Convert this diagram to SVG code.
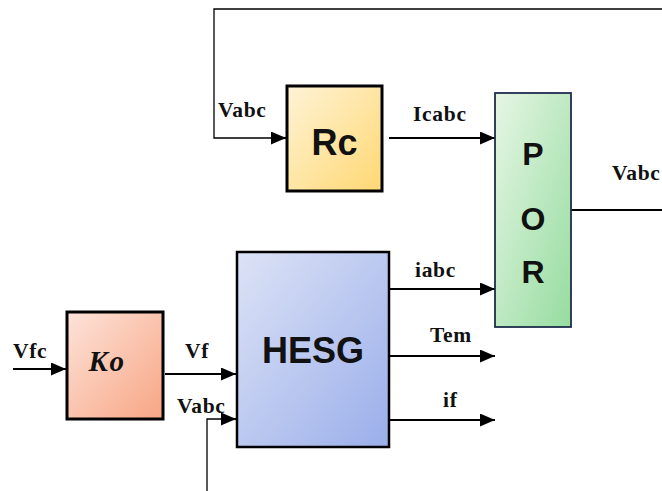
<svg xmlns="http://www.w3.org/2000/svg" width="662" height="491" viewBox="0 0 662 491">
<defs>
  <linearGradient id="gRc" x1="0" y1="0" x2="1" y2="1"><stop offset="0" stop-color="#fff3d6"/><stop offset="1" stop-color="#ffd873"/></linearGradient>
  <linearGradient id="gPor" x1="0" y1="0" x2="1" y2="1"><stop offset="0" stop-color="#e6f6e4"/><stop offset="1" stop-color="#96dca0"/></linearGradient>
  <linearGradient id="gHesg" x1="0" y1="0" x2="1" y2="1"><stop offset="0" stop-color="#dde3f6"/><stop offset="1" stop-color="#9aaeea"/></linearGradient>
  <linearGradient id="gKo" x1="0" y1="0" x2="1" y2="1"><stop offset="0" stop-color="#fde3da"/><stop offset="1" stop-color="#f8a583"/></linearGradient>
  <marker id="ah" markerWidth="15" markerHeight="13" refX="15" refY="6.5" orient="auto" markerUnits="userSpaceOnUse"><path d="M0,0 L15,6.5 L0,13 Z" fill="#000"/></marker>
</defs>
<style>
  .lbl{font-family:"Liberation Serif",serif;font-weight:bold;font-size:21.5px;fill:#111;letter-spacing:0.7px}
  .box{font-family:"Liberation Sans",Arial,sans-serif;font-weight:bold;fill:#111;text-anchor:middle}
  .thin{fill:none;stroke:#000;stroke-width:1.3}
  .sig{fill:none;stroke:#000;stroke-width:2.2}
</style>
<g id="connectors">
  <polyline class="thin" points="662,9 214,9 214,138 272,138"/>
  <line class="sig" x1="272" y1="138" x2="286" y2="138" marker-end="url(#ah)"/>
  <line class="sig" x1="389" y1="138" x2="495" y2="138" marker-end="url(#ah)"/>
  <line class="thin" x1="571" y1="210" x2="662" y2="210" style="stroke-width:1.8"/>
  <line class="sig" x1="389" y1="289" x2="495" y2="289" marker-end="url(#ah)"/>
  <line class="sig" x1="389" y1="356" x2="495" y2="356" marker-end="url(#ah)"/>
  <line class="sig" x1="389" y1="420" x2="495" y2="420" marker-end="url(#ah)"/>
  <line class="sig" x1="13" y1="369" x2="66" y2="369" marker-end="url(#ah)"/>
  <line class="sig" x1="165" y1="374" x2="236" y2="374" marker-end="url(#ah)"/>
  <polyline class="thin" points="207,491 207,419 222,419"/>
  <line class="sig" x1="222" y1="419" x2="236" y2="419" marker-end="url(#ah)"/>
</g>
<g id="Rc">
  <rect x="287" y="86" width="95" height="105" fill="url(#gRc)" stroke="#000" stroke-width="3"/>
  <text class="box" x="334.5" y="155" font-size="36">Rc</text>
</g>
<g id="POR">
  <rect x="495" y="93" width="76" height="234" fill="url(#gPor)" stroke="#1f2d4d" stroke-width="1.8"/>
  <text class="box" x="533" y="165" font-size="32">P</text>
  <text class="box" x="533" y="230" font-size="32">O</text>
  <text class="box" x="533" y="283" font-size="32">R</text>
</g>
<g id="HESG">
  <rect x="237" y="252" width="152" height="195" fill="url(#gHesg)" stroke="#000" stroke-width="2.5"/>
  <text class="box" x="313" y="363" font-size="36">HESG</text>
</g>
<g id="Ko">
  <rect x="67" y="312" width="96" height="107" fill="url(#gKo)" stroke="#000" stroke-width="3"/>
  <text x="107" y="371" font-family="Liberation Serif,serif" font-weight="bold" font-style="italic" font-size="29" text-anchor="middle" fill="#111" letter-spacing="1.5">Ko</text>
</g>
<g id="labels">
  <text class="lbl" x="218" y="117">Vabc</text>
  <text class="lbl" x="413" y="121">Icabc</text>
  <text class="lbl" x="612" y="180">Vabc</text>
  <text class="lbl" x="415" y="277">iabc</text>
  <text class="lbl" x="430" y="342">Tem</text>
  <text class="lbl" x="443" y="407">if</text>
  <text class="lbl" x="13" y="358">Vfc</text>
  <text class="lbl" x="185" y="358">Vf</text>
  <text class="lbl" x="177" y="413">Vabc</text>
</g>
</svg>
